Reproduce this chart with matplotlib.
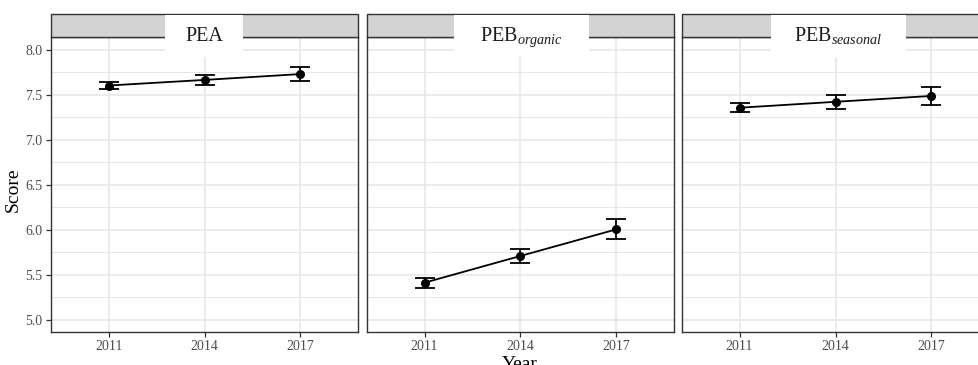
import matplotlib
matplotlib.use('Agg')
import matplotlib.pyplot as plt
from matplotlib.patches import Rectangle

plt.rcParams['font.family'] = ['Liberation Serif', 'DejaVu Serif']
plt.rcParams['mathtext.fontset'] = 'custom'
plt.rcParams['mathtext.rm'] = 'Liberation Serif'
plt.rcParams['mathtext.it'] = 'Liberation Serif:italic'

years = ['2011', '2014', '2017']
panels = ['PEA', r'PEB$_{organic}$', r'PEB$_{seasonal}$']
means = [
    [7.605, 7.667, 7.732],
    [5.414, 5.711, 6.007],
    [7.358, 7.424, 7.489],
]
errs = [
    [0.04, 0.055, 0.076],
    [0.055, 0.081, 0.111],
    [0.05, 0.078, 0.104],
]
yticks = [5.0, 5.5, 6.0, 6.5, 7.0, 7.5, 8.0]

W, H = 979, 365
fig = plt.figure(figsize=(W / 100, H / 100), dpi=100)

# panel layout in pixels (third panel runs past the cropped right edge)
lefts = [51, 367, 682]
pw = 307
top, bottom = 37, 332
strip_h = 23
box_x = [(165, 243), (454, 589), (771, 906)]
box_bottom = 57

border = '#333333'
grid = '#e6e6e6'

for i in range(3):
    ax = fig.add_axes([lefts[i] / W, (H - bottom) / H, pw / W, (bottom - top) / H])
    x = list(range(len(years)))
    ax.errorbar(x, means[i], yerr=errs[i], color='black', marker='o', ms=5.5,
                lw=1.3, elinewidth=1.3, capsize=7, capthick=1.3, zorder=3)
    ax.set_xlim(-0.6, 2.6)
    ax.set_ylim(4.866, 8.144)
    ax.set_xticks(x)
    ax.set_xticklabels(years)
    ax.set_yticks(yticks)
    ax.set_yticks([5.25, 5.75, 6.25, 6.75, 7.25, 7.75], minor=True)
    ax.grid(True, which='major', color=grid, lw=1.1, zorder=0)
    ax.grid(True, which='minor', axis='y', color=grid, lw=0.7, zorder=0)
    ax.set_axisbelow(True)
    ax.tick_params(which='major', length=3.5, width=0.9, color=border,
                   labelsize=10, labelcolor='#4d4d4d', pad=2.5)
    ax.tick_params(which='minor', length=0)
    if i == 0:
        ax.set_yticklabels([f'{v:.1f}' for v in yticks])
    else:
        ax.tick_params(axis='y', which='major', length=0, labelleft=False)
    for s in ax.spines.values():
        s.set_color(border)
        s.set_linewidth(1.0)

    ph = bottom - top
    sh = strip_h / ph
    ax.add_patch(Rectangle((0, 1), 1, sh, transform=ax.transAxes, facecolor='#d3d3d3',
                           edgecolor=border, lw=1.0, clip_on=False, zorder=4))
    bx0 = (box_x[i][0] - lefts[i]) / pw
    bx1 = (box_x[i][1] - lefts[i]) / pw
    by0 = 1 - (box_bottom - top) / ph
    ax.add_patch(Rectangle((bx0, by0), bx1 - bx0, 1 + sh - by0 - 0.004,
                           transform=ax.transAxes, facecolor='white', edgecolor='none',
                           clip_on=False, zorder=5))
    ax.text((bx0 + bx1) / 2, 1 - 3.7 / ph, panels[i], transform=ax.transAxes,
            ha='center', va='baseline', fontsize=14.5, color='#1a1a1a', zorder=6)

fig.text(13 / W, 1 - 190 / H, 'Score', rotation=90, ha='center', va='center', fontsize=14)
fig.text(520 / W, -0.01, 'Year', ha='center', va='baseline', fontsize=14)

fig.savefig('out.png', dpi=100)
